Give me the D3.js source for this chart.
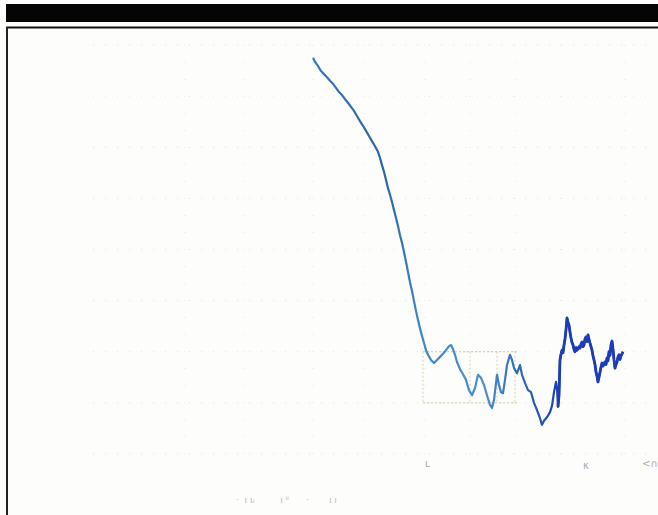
<!DOCTYPE html>
<html><head><meta charset="utf-8">
<script src="https://cdn.jsdelivr.net/npm/d3@7/dist/d3.min.js"></script>
<style>html,body{margin:0;padding:0;background:#fdfdfb;}svg{display:block;}</style>
</head><body>
<svg id="c" width="658" height="515"></svg>
<script>
// Day index (x) and series value (y)
const days = [0,2,5,8,11,14,17,20,23,26,29,32,35,38,41,44,47,50,53,56,59,62,65,67,69,71,73,75,77,79,81,83,85,87,89,91,93,95,97,99,101,103,105,107,109,111,113,115,118,121,124,127,130,133,136,138,140,142,144,147,150,153,156,159,162,165,168,171,174,177,179,181,184,186,188,190,192,194,197,199,201,204,207,209,212,215,218,221,224,227,229,231,234,237,239,241,243,244,245,246,247,248,249,250,251,252,253,254,255,256,257,258,259,260,261,262,263,264,266,267,268,269,270,271,272,273,274,275,276,277,278,279,280,281,282,283,284,285,286,287,288,289,290,292,293,294,295,296,297,298,299,300,301,302,303,304,305,306,307,308,309,310];
const values = [7.75,7.67,7.59,7.49,7.43,7.37,7.30,7.24,7.16,7.08,7.02,6.94,6.87,6.79,6.71,6.61,6.51,6.42,6.32,6.22,6.12,6.02,5.91,5.79,5.65,5.52,5.36,5.20,5.07,4.93,4.77,4.62,4.46,4.28,4.13,3.95,3.76,3.56,3.36,3.19,2.99,2.80,2.62,2.46,2.31,2.17,2.03,1.94,1.84,1.78,1.84,1.90,1.96,2.03,2.11,2.13,2.05,1.94,1.80,1.66,1.56,1.45,1.25,1.15,1.29,1.55,1.49,1.35,1.15,0.96,0.90,1.06,1.55,1.35,1.21,1.19,1.45,1.74,1.94,1.84,1.68,1.58,1.74,1.55,1.39,1.25,1.21,1.00,0.86,0.70,0.57,0.65,0.72,0.82,0.94,1.21,1.41,1.30,0.92,1.15,1.84,1.95,2.03,1.98,2.13,2.25,2.43,2.66,2.58,2.52,2.38,2.27,2.18,2.13,2.05,2.00,2.08,2.03,2.10,2.07,2.15,2.19,2.10,2.13,2.25,2.29,2.20,2.33,2.24,2.17,2.10,2.03,1.92,1.84,1.75,1.60,1.52,1.41,1.50,1.60,1.70,1.78,1.72,1.80,1.75,1.88,1.82,2.00,1.93,2.13,2.21,2.05,1.84,1.68,1.75,1.80,1.90,1.94,1.85,1.92,1.96,2.00];
const yLevels = [0,1,2,3,4,5,6,7,8];
const xGrid = [-128,-68,0,52,112,157,202,247,312];

const svg = d3.select("#c");
const x = d3.scaleLinear().domain([0,310]).range([313,623]);
const y = d3.scaleLinear().domain([0,8]).range([454,45]);

// header bar and frame
svg.append("rect").attr("x",6).attr("y",4).attr("width",652).attr("height",18).attr("fill","#050505");
svg.append("line").attr("x1",6).attr("x2",658).attr("y1",27.5).attr("y2",27.5).attr("stroke","#111").attr("stroke-width",2);
svg.append("line").attr("x1",7).attr("x2",7).attr("y1",27).attr("y2",515).attr("stroke","#222").attr("stroke-width",2);

// faint grid
const g = svg.append("g");
g.selectAll("line.h").data(yLevels).join("line")
  .attr("x1",x(-220)).attr("x2",x(335)).attr("y1",d=>y(d)).attr("y2",d=>y(d))
  .attr("stroke","#b8b8a8").attr("stroke-width",1).attr("stroke-dasharray","1,11").attr("opacity",0.45);
g.selectAll("line.v").data(xGrid).join("line")
  .attr("x1",d=>x(d)).attr("x2",d=>x(d)).attr("y1",y(8)).attr("y2",y(0))
  .attr("stroke","#c8c8b8").attr("stroke-width",1).attr("stroke-dasharray","1,16").attr("opacity",0.4);
// highlighted box
[2,1].forEach(v=>{
  g.append("line").attr("x1",x(110)).attr("x2",x(205)).attr("y1",y(v)).attr("y2",y(v))
   .attr("stroke","#c9c9a0").attr("stroke-width",1).attr("stroke-dasharray","2,2");
});
[110,157,184,202].forEach(d=>{
  g.append("line").attr("x1",x(d)).attr("x2",x(d)).attr("y1",y(2)).attr("y2",y(1))
   .attr("stroke","#d4d4b0").attr("stroke-width",1).attr("stroke-dasharray","2,2");
});

// gradient for the line
const defs = svg.append("defs");
const grad = defs.append("linearGradient").attr("id","lg").attr("gradientUnits","userSpaceOnUse")
  .attr("x1",x(0)).attr("x2",x(310)).attr("y1",0).attr("y2",0);
[[0,"#3a78be"],[0.22,"#2c64a6"],[0.35,"#3f86c8"],[0.55,"#4a8fd0"],[0.7,"#2a5fb0"],[0.8,"#1d3fb4"],[1,"#1f3cb8"]]
  .forEach(([o,c])=>grad.append("stop").attr("offset",o).attr("stop-color",c));

const pts = days.map((d,i)=>[d,values[i]]);
const line = d3.line().x(d=>x(d[0])).y(d=>y(d[1]));
svg.append("path").datum(pts)
  .attr("fill","none").attr("stroke","url(#lg)").attr("stroke-width",2.2).attr("stroke-linejoin","round")
  .attr("d",line);
svg.append("path").datum(pts.filter(p=>p[0]>=245))
  .attr("fill","none").attr("stroke","#1f3cb8").attr("stroke-width",2.8).attr("stroke-linejoin","round")
  .attr("d",line);

// faint scan marks
const marks = [["ʟ",112,-0.25],["κ",270,-0.3],["<∩",329,-0.25]];
svg.selectAll("text.m").data(marks).join("text")
  .attr("x",d=>x(d[1])).attr("y",d=>y(d[2])).attr("font-family","DejaVu Sans").attr("font-size",10)
  .attr("fill","#aaa").text(d=>d[0]);
svg.append("text").attr("x",x(-77)).attr("y",y(-0.95)).attr("font-family","DejaVu Sans").attr("font-size",9)
  .attr("fill","#bbb").style("white-space","pre").text("·  ı ɩᵢ         ı ⁱⁱ      ·       ı ı");
</script>
</body></html>
